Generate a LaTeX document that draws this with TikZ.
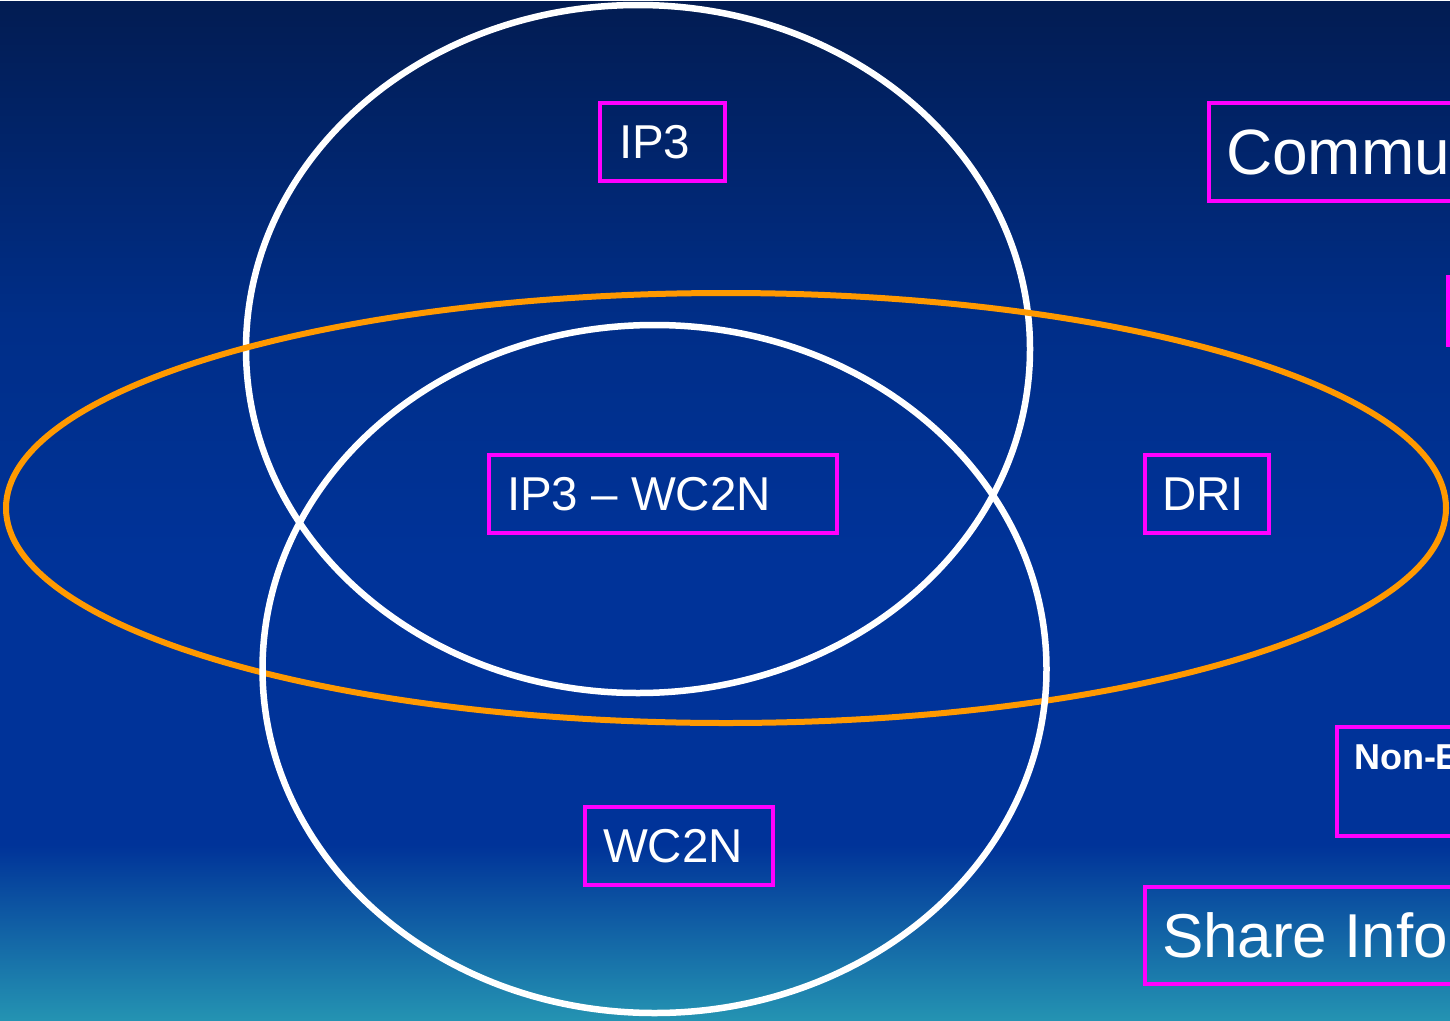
\documentclass[tikz,border=0pt]{standalone}
\usepackage{fontspec}
\setmainfont{Liberation Sans}
\definecolor{bgtop}{HTML}{021C52}
\definecolor{bgmid}{HTML}{002E88}
\definecolor{bgblue}{HTML}{003399}
\definecolor{bgteal}{HTML}{2493B2}
\definecolor{mag}{HTML}{FF00FF}
\definecolor{orng}{HTML}{FF9900}
\pgfdeclareverticalshading{slidebg}{1450pt}{color(0pt)=(bgteal); color(175pt)=(bgblue); color(460pt)=(bgblue); color(700pt)=(bgmid); color(1020pt)=(bgtop)}
\begin{document}
\begin{tikzpicture}[x=1pt,y=-1pt,
  lbl/.style={draw=mag, line width=4pt, text=white, inner sep=0pt, outer sep=0pt, anchor=north west, font=\fontsize{47.5}{56}\selectfont},
  ring/.style={draw=white, line width=6.5pt},
  oring/.style={draw=orng, line width=6pt}]
\useasboundingbox (0,0) rectangle (1450,1020);
\node[inner sep=0pt, outer sep=0pt, anchor=north west] (bg) at (0,0) {\pgfuseshading{slidebg}};
\begin{scope}
\clip (0,0) rectangle (1450,1020);
% ellipses
\draw[ring] (638,349) ellipse [x radius=392, y radius=344];
\draw[oring] (726,508) ellipse [x radius=720, y radius=215];
\draw[ring] (654.5,669) ellipse [x radius=392, y radius=344];
% boxes
\node[lbl, minimum height=78pt] (ip3) at (600,103) {\makebox[125pt][l]{\hspace*{19pt}IP3}};
\node[lbl, minimum height=78pt] (both) at (489,455) {\makebox[348pt][l]{\hspace*{18pt}IP3 – WC2N}};
\node[lbl, minimum height=78pt] (dri) at (1145,455) {\makebox[124pt][l]{\hspace*{17pt}DRI}};
\node[lbl, minimum height=78pt] (wc2n) at (585,807) {\makebox[188pt][l]{\hspace*{18pt}WC2N}};
\node[lbl, minimum height=98pt, font=\fontsize{64}{70}\selectfont] (comm) at (1209,103) {\makebox[500pt][l]{\hspace*{17pt}Communicate}};
\node[lbl, minimum height=68pt, minimum width=200pt] (hidden) at (1448,277) {};
\node[lbl, font=\bfseries\fontsize{36}{40}\selectfont] (nonE) at (1337,727) {\parbox[c][109pt][t]{320pt}{\vspace*{18pt}\hspace*{17pt}Non-Emergency}};
\node[lbl, minimum height=97pt, font=\fontsize{62}{68}\selectfont] (share) at (1145,887) {\makebox[600pt][l]{\hspace*{17pt}Share Information}};
\end{scope}
\end{tikzpicture}
\end{document}
